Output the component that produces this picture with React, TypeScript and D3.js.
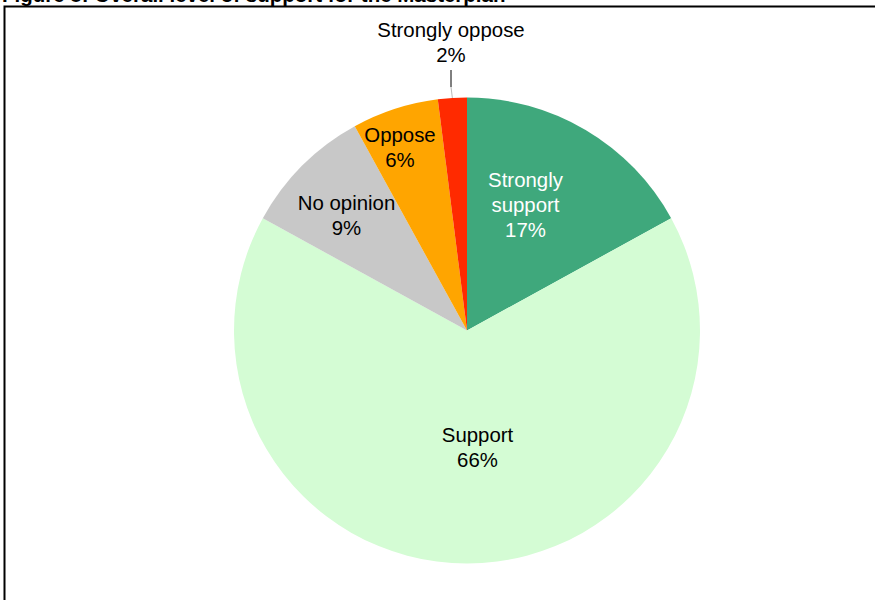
import React from "react";
import * as d3 from "d3";

const categories = ["Strongly support", "Support", "No opinion", "Oppose", "Strongly oppose"];
const values = [17, 66, 9, 6, 2];
const labelLines = [
  ["Strongly", "support", "17%"],
  ["Support", "66%"],
  ["No opinion", "9%"],
  ["Oppose", "6%"],
  ["Strongly oppose", "2%"],
];
const colors = ["#3fa87c", "#d4fcd4", "#c8c8c8", "#ffa500", "#ff2a00"];
const textColors = ["#ffffff", "#000000", "#000000", "#000000", "#000000"];
const title = "Figure 8: Overall level of support for the Masterplan";

// layout: label anchor offsets (x centre, first baseline) relative to pie centre
const labelOffsets: [number, number][] = [
  [58.5, -143.5],
  [10.5, 111.5],
  [-120.5, -120.5],
  [-67, -188.5],
  [-16, -293.5],
];

const W = 875;
const H = 600;
const cx = 467;
const cy = 330.5;
const R = 233;
const FONT = "'Liberation Sans', Arial, Helvetica, sans-serif";

export default function App() {
  const data = categories.map((c, i) => ({ c, v: values[i], i }));
  const pie = d3.pie<any>().value((d) => d.v).sort(null);
  const arcs = pie(data);
  const arc = d3.arc<any>().innerRadius(0).outerRadius(R);

  const so = arcs[4];
  const mid = (so.startAngle + so.endAngle) / 2;
  const edgeX = cx + Math.sin(mid) * R;
  const edgeY = cy - Math.cos(mid) * R;

  return (
    <svg
      width={W}
      height={H}
      style={{ position: "absolute", left: 0, top: 0, background: "#fff" }}
    >
      <rect x={0} y={0} width={W} height={H} fill="#fff" />
      <text x={2} y={2} fontFamily={FONT} fontWeight="bold" fontSize={20.5} fill="#000">
        {title}
      </text>
      <rect x={4.5} y={6.5} width={W + 20} height={H + 20} fill="none" stroke="#000" strokeWidth={2} />
      <g transform={`translate(${cx},${cy})`}>
        {arcs.map((a, i) => (
          <path key={i} d={arc(a) as string} fill={colors[i]} />
        ))}
      </g>
      <line x1={edgeX} y1={edgeY} x2={cx - 16} y2={87} stroke="#bbbbbb" strokeWidth={1} />
      <line x1={cx - 16} y1={87} x2={cx - 16} y2={70} stroke="#000" strokeWidth={1} />
      {labelLines.map((lines, i) => (
        <text
          key={i}
          fontFamily={FONT}
          fontSize={20.4}
          fill={textColors[i]}
          textAnchor="middle"
        >
          {lines.map((l, j) => (
            <tspan key={j} x={cx + labelOffsets[i][0]} y={cy + labelOffsets[i][1] + j * 25}>
              {l}
            </tspan>
          ))}
        </text>
      ))}
    </svg>
  );
}
